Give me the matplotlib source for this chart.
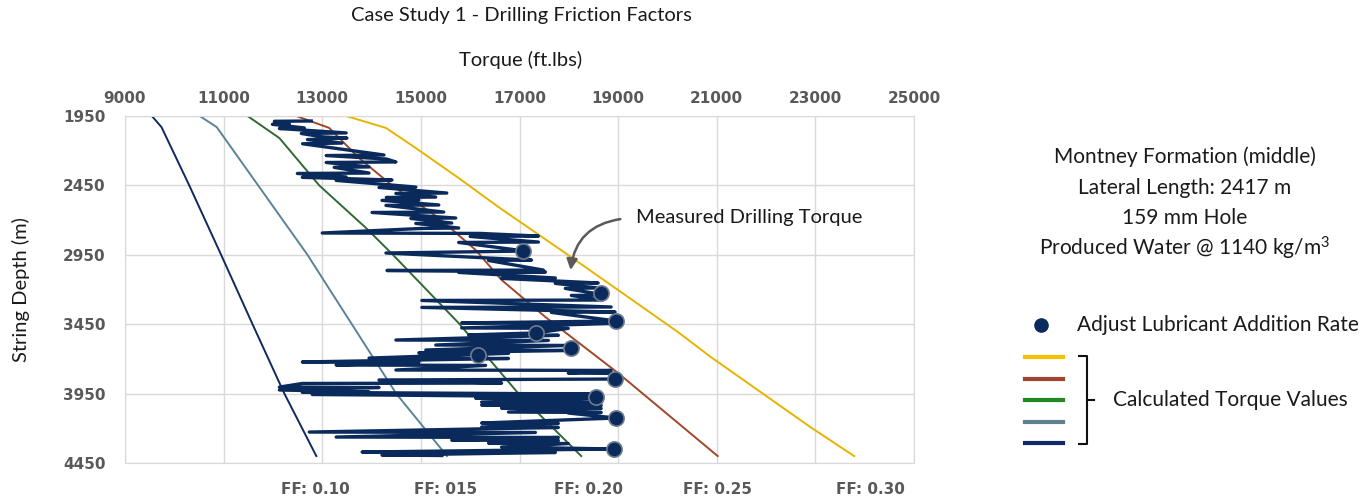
import matplotlib.pyplot as plt
from matplotlib.lines import Line2D

plt.rcParams['font.family'] = ['Lato', 'DejaVu Sans']
plt.rcParams['mathtext.default'] = 'regular'

# calculated torque curves, one per friction factor
calc_depth = {
    'ff10': [1950, 2030, 2450, 2950, 3450, 3950, 4400],
    'ff15': [1950, 2030, 2450, 2950, 3450, 3950, 4400],
    'ff20': [1950, 2109, 2450, 2757, 2950, 3450, 3950, 4400],
    'ff25': [1950, 2036, 2253, 2450, 2685, 2915, 3131, 3398, 3802, 4400],
    'ff30': [1950, 2036, 2181, 2397, 2606, 2937, 3254, 3506, 3686, 4191, 4400],
}
calc_torque = {
    'ff10': [9545, 9740, 10303, 10949, 11586, 12232, 12880],
    'ff15': [10515, 10860, 11700, 12700, 13600, 14500, 15530],
    'ff20': [11485, 12131, 12939, 13888, 14434, 15787, 16979, 18252],
    'ff25': [12474, 13141, 13747, 14414, 15363, 16110, 16636, 17524, 18999, 21019],
    'ff30': [13484, 14292, 14898, 15767, 16575, 17928, 19201, 20211, 20878, 22898, 23786],
}
curve_colors = {
    'ff10': '#0f2a5c',
    'ff15': '#5b8397',
    'ff20': '#2f6b30',
    'ff25': '#a0462a',
    'ff30': '#e6b400',
}
legend_colors = ['#f5c000', '#a0462a', '#1f8a1f', '#5f7f8f', '#10296a']

# measured drilling torque
meas_depth = [1986, 1988, 2000, 2008, 2010, 2036, 2040, 2072, 2076, 2100, 2109, 2120,
              2145, 2150, 2231, 2235, 2260, 2281, 2285, 2317, 2320, 2361, 2364, 2389,
              2392, 2411, 2414, 2462, 2465, 2505, 2508, 2534, 2537, 2555, 2558, 2591,
              2594, 2642, 2645, 2685, 2688, 2721, 2724, 2757, 2760, 2793, 2796, 2815,
              2818, 2858, 2861, 2923, 2937, 2988, 2991, 3060, 3063, 3074, 3077, 3117,
              3120, 3153, 3156, 3189, 3192, 3240, 3243, 3276, 3279,
              3326, 3329, 3362, 3365, 3427, 3441, 3444, 3477, 3480, 3513, 3527,
              3530, 3564, 3567, 3600, 3603, 3636, 3639, 3657, 3660, 3694, 3697, 3722,
              3725, 3744, 3747, 3780, 3783, 3802, 3805, 3845, 3852, 3874, 3877, 3903,
              3906, 3924, 3938, 3941, 3953, 3956, 3974, 3982, 3985, 4011, 4014, 4032,
              4035, 4054, 4057, 4083, 4086, 4090, 4126, 4162, 4165, 4191, 4194, 4227,
              4230, 4263, 4266, 4285, 4288, 4307, 4310, 4335, 4349, 4371, 4374, 4393,
              4396]
meas_torque = [12777, 12030, 12100, 12333, 11990, 12636, 12131, 13484, 12575, 13000, 13500, 12700,
               13400, 12600, 14252, 13080, 14300, 14494, 13080, 13949, 13242, 13949, 12495, 13484,
               12596, 14414, 13282, 14898, 14151, 15525, 14494, 15300, 14300, 14959, 14212, 15363,
               14292, 15464, 14010, 15706, 14797, 15626, 14898, 15767, 15020, 13000, 16211, 17383,
               16000, 17383, 15767, 17120, 14292, 17242, 16373, 17484, 14313, 17525, 15767, 17726,
               16636, 18595, 17726, 18595, 17928, 18737, 18050, 18656, 15020,
               18858, 15020, 18938, 17646, 18960, 15828, 18938, 15828, 17989, 17343, 15969,
               17787, 14494, 17585, 15302, 17989, 15100, 18000, 14959, 16777, 13949, 16777, 12596,
               14959, 13282, 16312, 14494, 18858, 17989, 18999, 18939, 14151, 16636, 12596, 12131,
               14151, 12131, 13949, 12596, 18534, 12798, 18556, 16110, 18656, 16232, 18656, 16232,
               18656, 16636, 18656, 16777, 18656, 17989, 18960, 16232, 17787, 16232, 17787, 12737,
               17322, 13282, 17787, 15626, 17787, 16373, 17989, 16636, 18919, 13808, 17726, 14212,
               15424]

# points where the lubricant addition rate was adjusted
lube_depth = [2923, 3225, 3427, 3513, 3621, 3672, 3845, 3974, 4126, 4349]
lube_torque = [17081, 18657, 18960, 17343, 18051, 16152, 18939, 18556, 18960, 18919]

x_ticks = [9000, 11000, 13000, 15000, 17000, 19000, 21000, 23000, 25000]
y_ticks = [1950, 2450, 2950, 3450, 3950, 4450]

ff_labels = ['FF: 0.10', 'FF: 015', 'FF: 0.20', 'FF: 0.25', 'FF: 0.30']
ff_label_x = [12860, 15500, 18390, 21020, 24110]

info_lines = ['Montney Formation (middle)', 'Lateral Length: 2417 m', '159 mm Hole',
              'Produced Water @ 1140 kg/m$^{3}$']

W, H = 1365, 499
fig = plt.figure(figsize=(W / 100, H / 100), dpi=100)
ax = fig.add_axes([125 / W, 1 - 463 / H, 789 / W, 347 / H])

grey = '#595959'
txt = '#1a1a1a'
for key in ['ff10', 'ff15', 'ff20', 'ff25', 'ff30']:
    ax.plot(calc_torque[key], calc_depth[key], color=curve_colors[key], lw=1.4, zorder=2)

ax.plot(meas_torque, meas_depth, color='#0b2a5c', lw=2.4, solid_joinstyle='round', zorder=3)
ax.scatter(lube_torque, lube_depth, s=120, color='#0b2a5c', edgecolors='#6f7c8c',
           linewidths=1.2, zorder=4)

tick_font = dict(fontsize=11, fontweight='bold', color=grey, family='DejaVu Sans')
ax.set_xlim(9000, 25000)
ax.set_ylim(4450, 1950)
ax.set_xticks(x_ticks, labels=[str(v) for v in x_ticks], **tick_font)
ax.set_yticks(y_ticks, labels=[str(v) for v in y_ticks], **tick_font)
ax.xaxis.tick_top()
ax.tick_params(length=0)
ax.tick_params(axis='x', pad=7)
ax.tick_params(axis='y', pad=14)
ax.grid(True, color='#d9d9d9', lw=1)
ax.set_axisbelow(True)
for sp in ax.spines.values():
    sp.set_color('#d9d9d9')

ax.set_ylabel('String Depth (m)', fontsize=14.5, color=txt, labelpad=24)

for lab, xv in zip(ff_labels, ff_label_x):
    ax.text(xv, -0.075, lab, transform=ax.get_xaxis_transform(), ha='center', va='center',
            fontsize=11, fontweight='bold', color=grey, family='DejaVu Sans')

fig.text(521 / W, 1 - 16 / H, 'Case Study 1 - Drilling Friction Factors', ha='center',
         va='center', fontsize=14.5, color=txt)
fig.text(521 / W, 1 - 60 / H, 'Torque (ft.lbs)', ha='center', va='center',
         fontsize=14.5, color=txt)

# arrow pointing at the measured trace
ax.annotate('', xy=(18030, 3080), xytext=(19100, 2690),
            arrowprops=dict(arrowstyle='-|>', color=grey, lw=1.8, mutation_scale=16,
                            connectionstyle='arc3,rad=0.4'))
ax.text(19370, 2680, 'Measured Drilling Torque', ha='left', va='center', fontsize=14.5,
        color=txt)

for i, line in enumerate(info_lines):
    fig.text(1185 / W, 1 - (157 + 30.5 * i) / H, line, ha='center', va='center',
             fontsize=15, color=txt)

# legend drawn by hand on the figure
fig.add_artist(Line2D([1041 / W], [1 - 325 / H], marker='o', markersize=9.5,
                      color='#0b2a5c', lw=0))
fig.text(1077 / W, 1 - 325 / H, 'Adjust Lubricant Addition Rate', ha='left', va='center',
         fontsize=15, color=txt)
for i, c in enumerate(legend_colors):
    yy = 1 - (357 + 21.5 * i) / H
    fig.add_artist(Line2D([1025 / W, 1063 / W], [yy, yy], color=c, lw=3))
bx = [1079 / W, 1087 / W, 1087 / W, 1079 / W]
by = [1 - 356 / H, 1 - 356 / H, 1 - 444 / H, 1 - 444 / H]
fig.add_artist(Line2D(bx, by, color='#111111', lw=1.5))
fig.add_artist(Line2D([1087 / W, 1094 / W], [1 - 400 / H, 1 - 400 / H], color='#111111', lw=1.5))
fig.text(1113 / W, 1 - 400 / H, 'Calculated Torque Values', ha='left', va='center',
         fontsize=15, color=txt)

fig.savefig('out.png', dpi=100)
